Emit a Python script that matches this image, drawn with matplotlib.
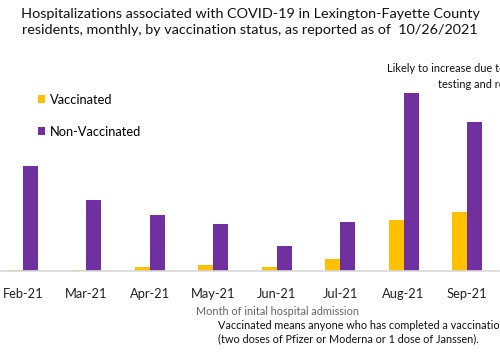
import matplotlib
matplotlib.use("Agg")
import matplotlib.pyplot as plt
import numpy as np

months = ["Feb-21", "Mar-21", "Apr-21", "May-21", "Jun-21", "Jul-21", "Aug-21", "Sep-21"]
vaccinated = [1.5, 1, 4, 6, 4, 12, 51, 59]
non_vaccinated = [105, 71, 56, 47, 25, 49, 178, 149]

plt.rcParams['font.family'] = ['Lato', 'DejaVu Sans']

W, H = 500, 356
fig = plt.figure(figsize=(5, 3.56), dpi=100)
# axes in pixel coordinates
left_px, right_px = -8.7, 498.7
base_px, top_px = 271, 60
ax = fig.add_axes([left_px / W, (H - base_px) / H, (right_px - left_px) / W, (base_px - top_px) / H])

x = np.arange(len(months))
bw = 0.237
ax.bar(x - bw / 2, vaccinated, bw, color="#FFC000", label="Vaccinated")
ax.bar(x + bw / 2, non_vaccinated, bw, color="#7030A0", label="Non-Vaccinated")
ax.set_xlim(-0.5, len(months) - 0.5)
ax.set_ylim(0, base_px - top_px)
ax.set_xticks(x)
ax.set_xticklabels(months, fontsize=9.3, color="#222222")
ax.tick_params(axis="x", length=0, pad=12)
ax.set_yticks([])
for s in ["top", "right", "left"]:
    ax.spines[s].set_visible(False)
ax.spines["bottom"].set_color("#D9D9D9")
ax.spines["bottom"].set_linewidth(1.2)

ax.set_xlabel("Month of inital hospital admission", fontsize=7.8, color="#666666")
ax.xaxis.set_label_coords((277 - left_px) / (right_px - left_px), -(306 - base_px) / (base_px - top_px))

leg = fig.legend(loc="upper left", bbox_to_anchor=(26 / W, 1 - 82 / H), frameon=False,
                 fontsize=9.3, handlelength=0.55, handleheight=0.55, handletextpad=0.4,
                 labelspacing=1.55)

fig.text(250 / W, 1 - 22 / H,
         "Hospitalizations associated with COVID-19 in Lexington-Fayette County\n"
         "residents, monthly, by vaccination status, as reported as of  10/26/2021",
         ha="center", va="center", fontsize=10.4, color="#111111", linespacing=1.3)

fig.text(387 / W, 1 - 69 / H, "Likely to increase due to delays in", ha="left", va="center",
         fontsize=7.9, color="#111111")
fig.text(438 / W, 1 - 85 / H, "testing and reporting", ha="left", va="center",
         fontsize=7.9, color="#111111")

fig.text(218 / W, 1 - 332 / H, "Vaccinated means anyone who has completed a vaccination series\n"
         "(two doses of Pfizer or Moderna or 1 dose of Janssen).", ha="left", va="center",
         fontsize=7.8, color="#111111", linespacing=1.3)

fig.savefig("out.png", dpi=100)
